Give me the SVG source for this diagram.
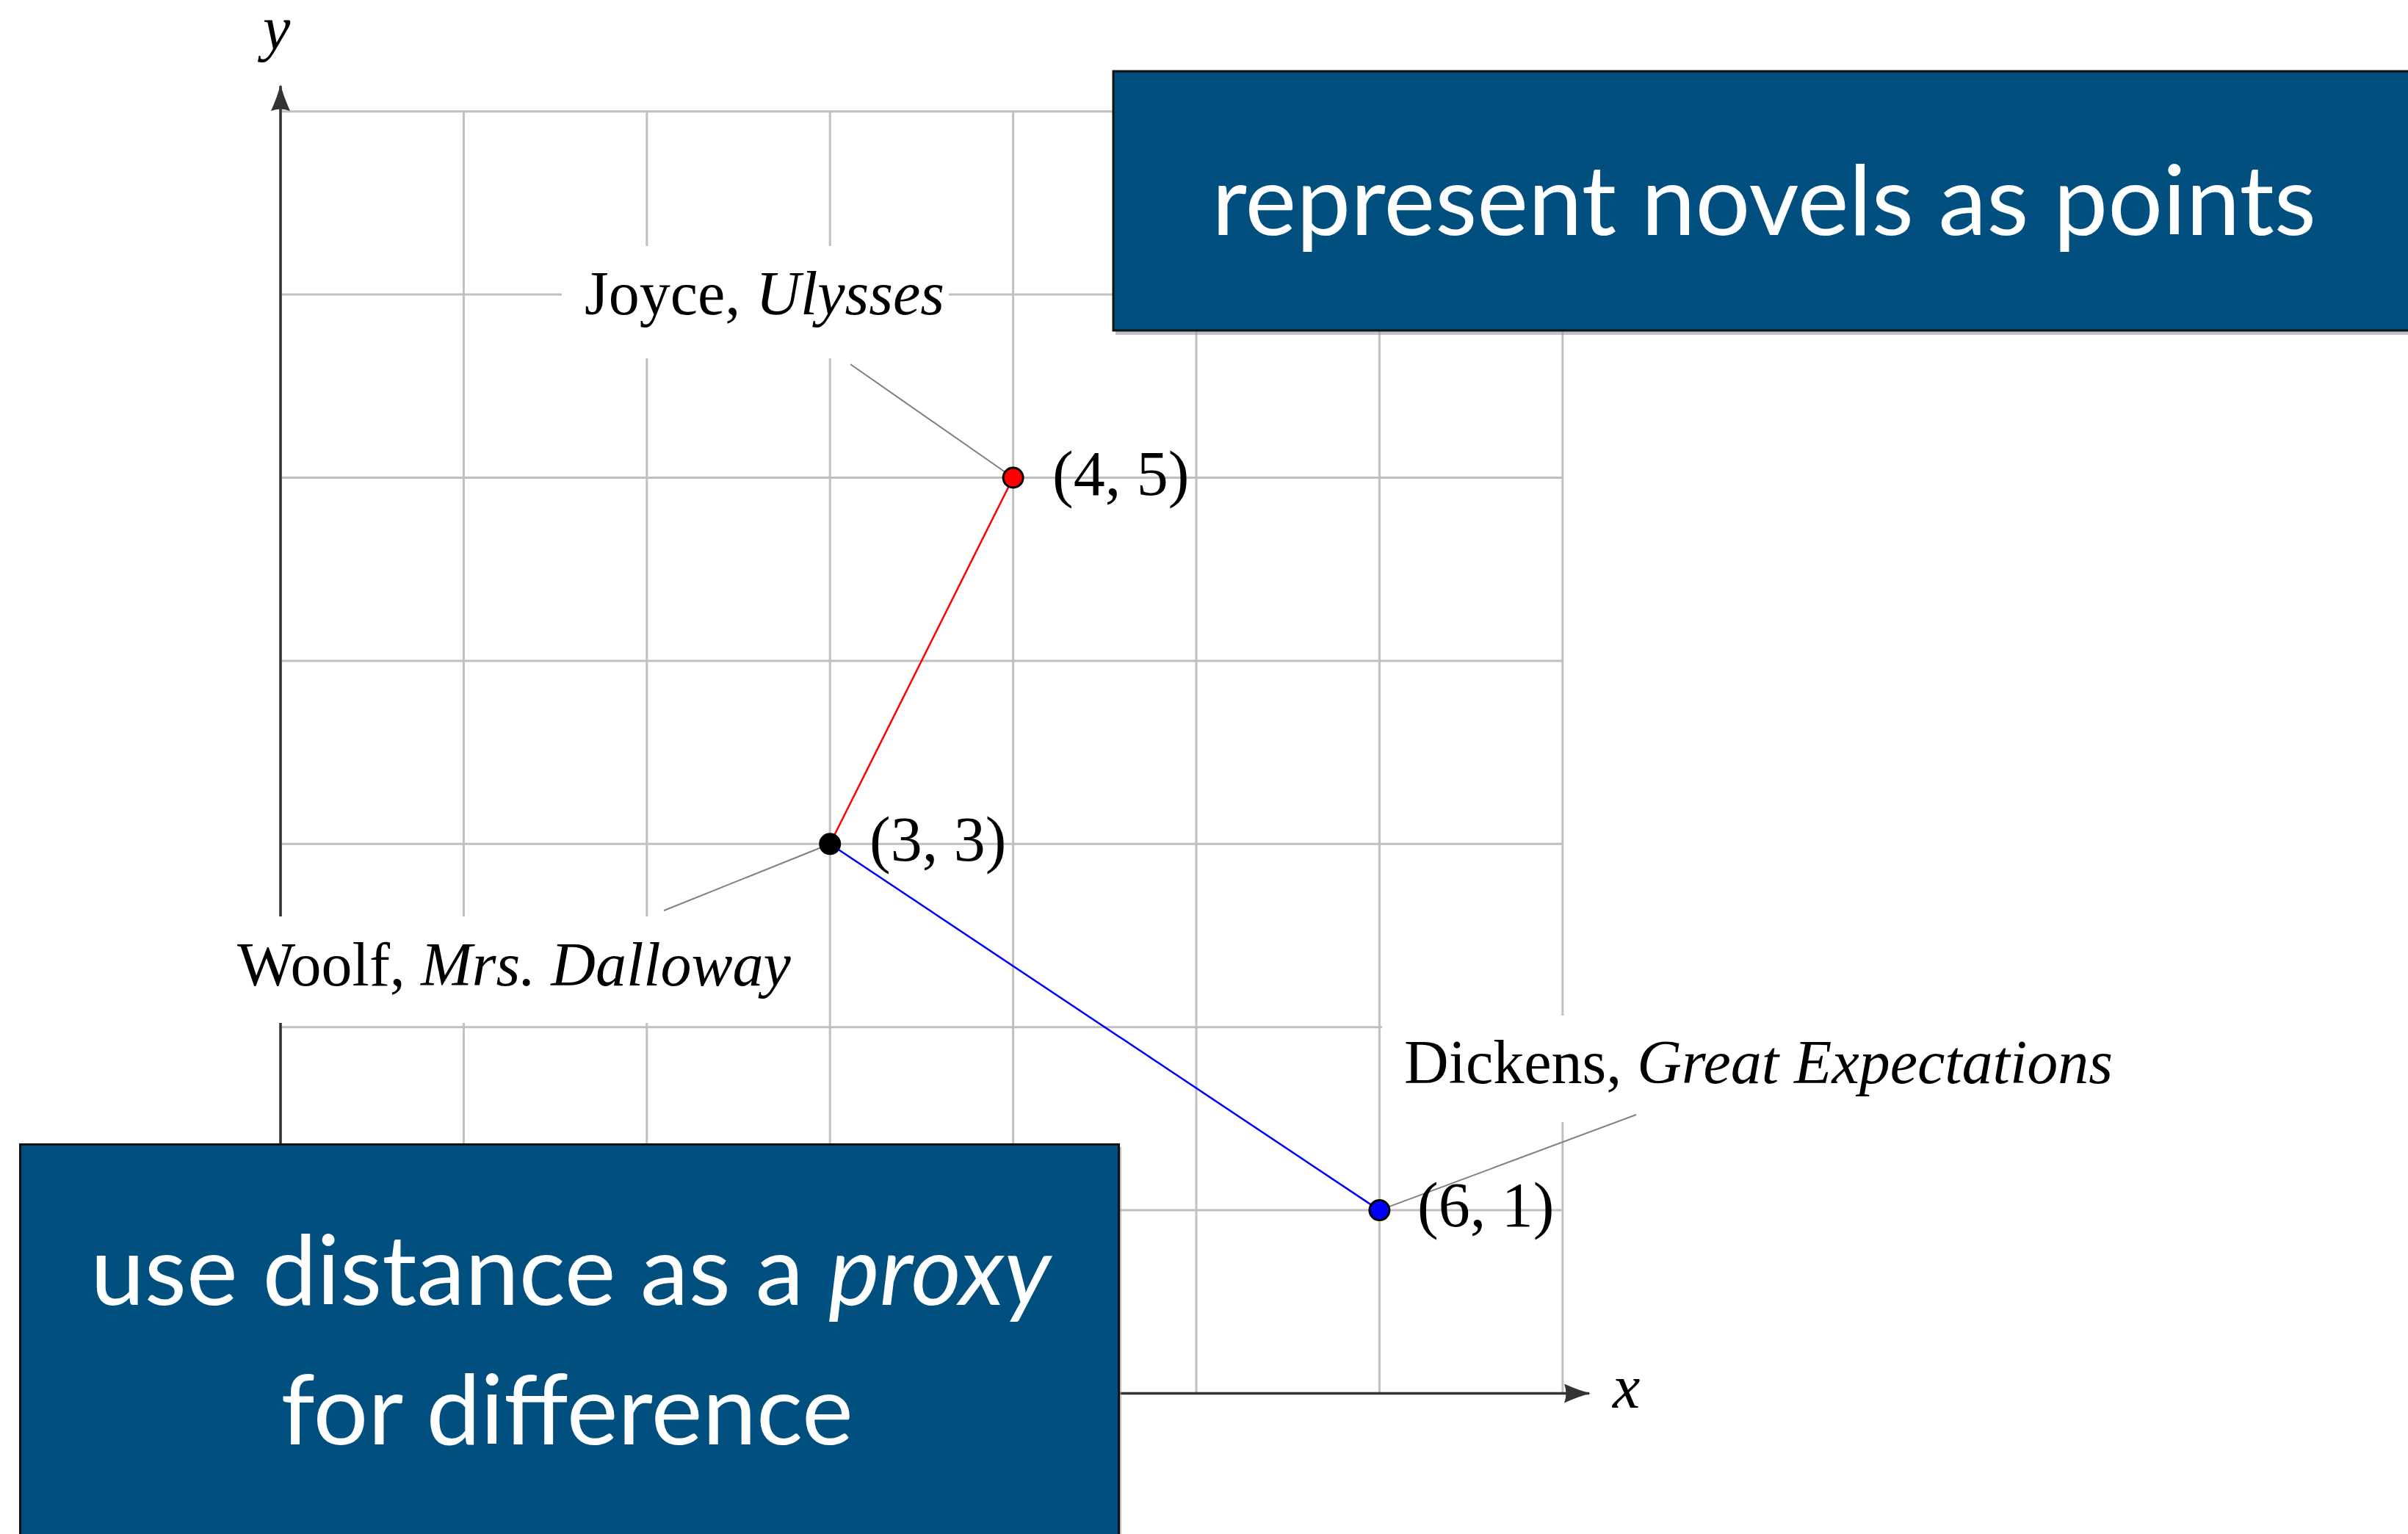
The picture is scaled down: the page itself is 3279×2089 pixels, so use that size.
<svg xmlns="http://www.w3.org/2000/svg" width="3279" height="2089" viewBox="0 0 3279 2089">
<style>
.grid line{stroke:#c0c0c0;stroke-width:3}
.axis{stroke:#333;stroke-width:3.5;fill:none}
.lbl{font-family:"Liberation Serif","Times New Roman",serif;font-size:84px;fill:#000}
.coord{font-family:"Liberation Serif","Times New Roman",serif;font-size:86px;fill:#000}
.it{font-style:italic}
.lead{stroke:#808080;stroke-width:2}
.lblbox{fill:#fff}
.blue{fill:#004f7f;stroke:#111;stroke-width:3}
.shadow{fill:#9a9a9a;opacity:0.6}
.btxt{font-family:Lato,"Open Sans",sans-serif;font-size:132px;fill:#fff;text-anchor:middle}
.dot{stroke:#000;stroke-width:3}
</style>
<defs>
<marker id="ah" viewBox="0 0 36 26" refX="34" refY="13" markerWidth="36" markerHeight="26" markerUnits="userSpaceOnUse" orient="auto">
<path d="M36,13 Q20,9 0,0 Q5,13 0,26 Q20,17 36,13 Z" fill="#333"/>
</marker>
</defs>
<rect width="3279" height="2089" fill="#fff"/>
<g id="grid" class="grid">
<line x1="382" y1="151.7" x2="2128" y2="151.7"/>
<line x1="382" y1="401.1" x2="2128" y2="401.1"/>
<line x1="382" y1="650.5" x2="2128" y2="650.5"/>
<line x1="382" y1="899.9" x2="2128" y2="899.9"/>
<line x1="382" y1="1149.3" x2="2128" y2="1149.3"/>
<line x1="382" y1="1398.7" x2="2128" y2="1398.7"/>
<line x1="382" y1="1648.1" x2="2128" y2="1648.1"/>
<line x1="382" y1="1897.5" x2="2128" y2="1897.5"/>
<line x1="382" y1="151.7" x2="382" y2="1897.5"/>
<line x1="631.4" y1="151.7" x2="631.4" y2="1897.5"/>
<line x1="880.8" y1="151.7" x2="880.8" y2="1897.5"/>
<line x1="1130.2" y1="151.7" x2="1130.2" y2="1897.5"/>
<line x1="1379.6" y1="151.7" x2="1379.6" y2="1897.5"/>
<line x1="1629" y1="151.7" x2="1629" y2="1897.5"/>
<line x1="1878.4" y1="151.7" x2="1878.4" y2="1897.5"/>
<line x1="2127.8" y1="151.7" x2="2127.8" y2="1897.5"/>
</g>
<g id="axes">
<line class="axis" x1="382" y1="1897.5" x2="382" y2="117" marker-end="url(#ah)"/>
<line class="axis" x1="382" y1="1897.5" x2="2164" y2="1897.5" marker-end="url(#ah)"/>
<text class="lbl it" x="358" y="67" font-size="88">y</text>
<text class="lbl it" x="2196" y="1917" font-size="88">x</text>
</g>
<g id="label-boxes">
<rect class="lblbox" x="765" y="335" width="527" height="153"/>
<rect class="lblbox" x="300" y="1248" width="810" height="145"/>
<rect class="lblbox" x="1882" y="1383" width="1030" height="145"/>
</g>
<g id="connectors">
<line class="lead" x1="1158" y1="496" x2="1379.6" y2="650.5"/>
<line class="lead" x1="904" y1="1240" x2="1130.2" y2="1149.3"/>
<line class="lead" x1="2228" y1="1518" x2="1878.4" y2="1648.1"/>
<line x1="1130.2" y1="1149.3" x2="1379.6" y2="650.5" stroke="#ff0000" stroke-width="2.5"/>
<line x1="1130.2" y1="1149.3" x2="1878.4" y2="1648.1" stroke="#0000ff" stroke-width="2.5"/>
</g>
<g id="joyce">
<circle class="dot" cx="1379.6" cy="650.5" r="13.5" fill="#ff0000"/>
<text class="coord" x="1433" y="674">(4, 5)</text>
<text class="lbl" x="796" y="428">Joyce, <tspan class="it">Ulysses</tspan></text>
</g>
<g id="woolf">
<circle class="dot" cx="1130.2" cy="1149.3" r="13.5" fill="#000"/>
<text class="coord" x="1184" y="1172">(3, 3)</text>
<text class="lbl" x="323" y="1342">Woolf, <tspan class="it">Mrs. Dalloway</tspan></text>
</g>
<g id="dickens">
<circle class="dot" cx="1878.4" cy="1648.1" r="13.5" fill="#0000ff"/>
<text class="coord" x="1930" y="1670">(6, 1)</text>
<text class="lbl" x="1912" y="1475">Dickens, <tspan class="it">Great Expectations</tspan></text>
</g>
<g id="box-represent">
<rect class="shadow" x="1519" y="100" width="1800" height="356"/>
<rect class="blue" x="1516" y="97" width="1800" height="353"/>
<text class="btxt" x="2402" y="320">represent novels as points</text>
</g>
<g id="box-proxy">
<rect class="shadow" x="30" y="1562" width="1497" height="560"/>
<rect class="blue" x="27.5" y="1558.5" width="1496" height="560"/>
<text class="btxt" x="777" y="1777">use distance as a <tspan class="it">proxy</tspan></text>
<text class="btxt" x="772" y="1967">for difference</text>
</g>
</svg>
